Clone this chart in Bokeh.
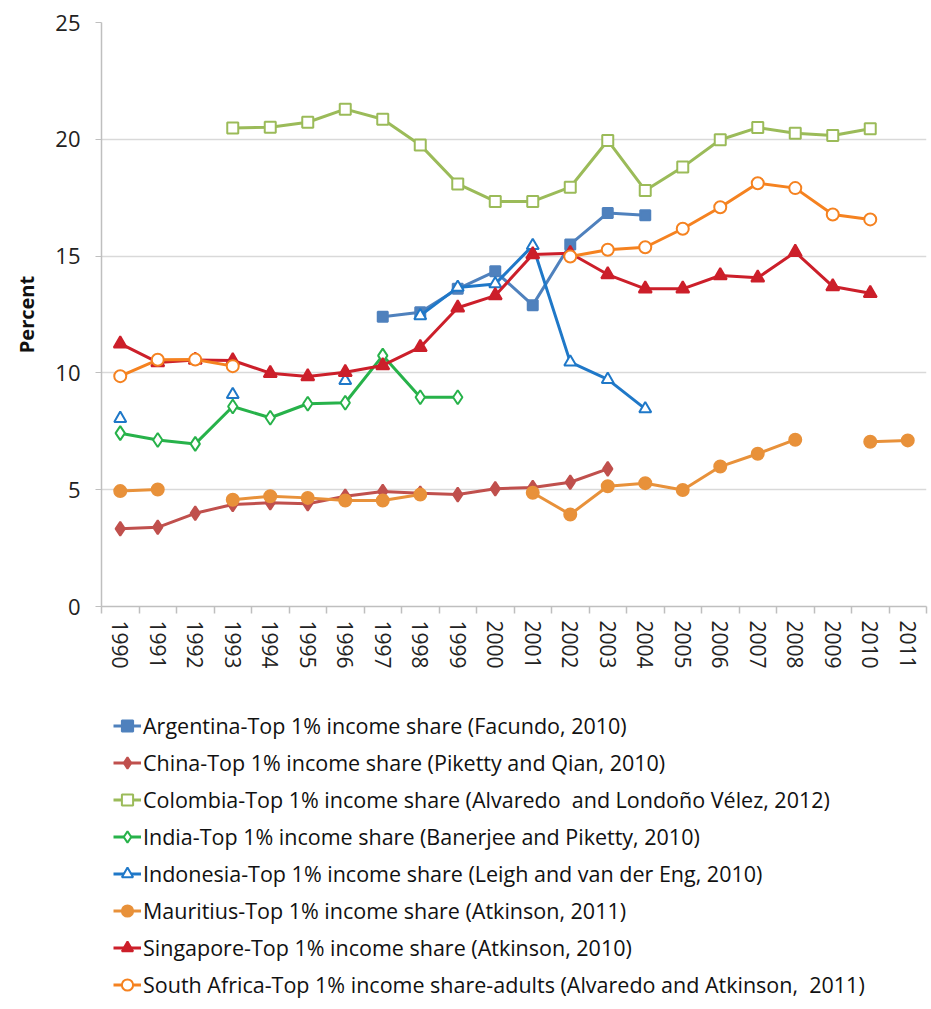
import numpy as np
from bokeh.plotting import figure
from bokeh.layouts import column
from bokeh.models import FixedTicker, Legend, LegendItem, Range1d
from bokeh.embed import file_html
from bokeh.resources import INLINE

years = list(range(1990, 2012))

argentina = [None, None, None, None, None, None, None, 12.4, 12.6, 13.6, 14.35, 12.9, 15.5, 16.85, 16.75,
             None, None, None, None, None, None, None]
china = [3.33, 3.39, 3.99, 4.37, 4.44, 4.40, 4.72, 4.92, 4.85, 4.79, 5.04, 5.09, 5.32, 5.89,
         None, None, None, None, None, None, None, None]
colombia = [None, None, None, 20.48, 20.52, 20.73, 21.29, 20.86, 19.76, 18.09, 17.34, 17.34, 17.95, 19.95,
            17.81, 18.81, 19.98, 20.50, 20.26, 20.16, 20.45, None]
india = [7.42, 7.13, 6.96, 8.56, 8.08, 8.68, 8.72, 10.74, 8.96, 8.96,
         None, None, None, None, None, None, None, None, None, None, None, None]
indonesia = [8.05, None, None, 9.07, None, None, 9.67, None, 12.45, 13.66, 13.81, 15.45, 10.46, 9.72, 8.46,
             None, None, None, None, None, None, None]
mauritius = [4.94, 5.01, None, 4.57, 4.72, 4.65, 4.54, 4.54, 4.79, None, None, 4.87, 3.94, 5.15, 5.28,
             4.99, 5.99, 6.54, 7.14, None, 7.05, 7.11]
singapore = [11.25, 10.45, 10.55, 10.53, 9.99, 9.85, 10.03, 10.32, 11.10, 12.79, 13.31, 15.07, 15.12, 14.21,
             13.60, 13.60, 14.17, 14.07, 15.17, 13.70, 13.41, None]
south_africa = [9.86, 10.56, 10.57, 10.29, None, None, None, None, None, None, None, None, 14.98, 15.27,
                15.38, 16.17, 17.09, 18.12, 17.91, 16.78, 16.57, None]

labels = [
    "Argentina-Top 1% income share (Facundo, 2010)",
    "China-Top 1% income share (Piketty and Qian, 2010)",
    "Colombia-Top 1% income share (Alvaredo  and Londoño Vélez, 2012)",
    "India-Top 1% income share (Banerjee and Piketty, 2010)",
    "Indonesia-Top 1% income share (Leigh and van der Eng, 2010)",
    "Mauritius-Top 1% income share (Atkinson, 2011)",
    "Singapore-Top 1% income share (Atkinson, 2010)",
    "South Africa-Top 1% income share-adults (Alvaredo and Atkinson,  2011)",
]
y_ticks = [0, 5, 10, 15, 20, 25]

def arr(v):
    return np.array([np.nan if x is None else x for x in v], dtype=float)

FONT = "Open Sans"

p = figure(width=928, height=680, output_backend="svg", toolbar_location=None,
           x_range=Range1d(1989.5, 2011.5), y_range=Range1d(0, 25),
           min_border_left=101, min_border_right=2, min_border_top=22, min_border_bottom=74)
p.outline_line_color = None
p.background_fill_color = "white"
p.border_fill_color = "white"

# y axis
p.yaxis.ticker = FixedTicker(ticks=y_ticks)
p.yaxis.axis_line_color = "#bfbfbf"
p.yaxis.axis_line_width = 1.5
p.yaxis.major_tick_line_color = "#bfbfbf"
p.yaxis.major_tick_out = 6
p.yaxis.major_tick_in = 0
p.yaxis.minor_tick_line_color = None
p.yaxis.major_label_text_font = FONT
p.yaxis.major_label_text_font_size = "22px"
p.yaxis.major_label_text_color = "#222222"
p.yaxis.major_label_standoff = 15
p.yaxis.axis_label = "Percent"
p.yaxis.axis_label_text_font = FONT
p.yaxis.axis_label_text_font_style = "bold"
p.yaxis.axis_label_text_font_size = "20px"
p.yaxis.axis_label_text_color = "#111111"
p.yaxis.axis_label_standoff = 12

# x axis
p.xaxis.ticker = FixedTicker(ticks=years, minor_ticks=[y + 0.5 for y in range(1989, 2012)])
p.xaxis.major_label_overrides = {y: str(y) for y in years}
p.xaxis.axis_line_color = "#bfbfbf"
p.xaxis.axis_line_width = 1.5
p.xaxis.major_tick_line_color = None
p.xaxis.major_tick_out = 0
p.xaxis.major_tick_in = 0
p.xaxis.minor_tick_line_color = "#bfbfbf"
p.xaxis.minor_tick_line_width = 1.5
p.xaxis.minor_tick_out = 7
p.xaxis.minor_tick_in = 0
p.xaxis.major_label_orientation = "vertical"
p.xaxis.major_label_text_font = FONT
p.xaxis.major_label_text_font_size = "21px"
p.xaxis.major_label_text_color = "#222222"
p.xaxis.major_label_standoff = 7

p.xgrid.grid_line_color = None
p.ygrid.ticker = FixedTicker(ticks=y_ticks)
p.ygrid.grid_line_color = "#d9d9d9"
p.ygrid.grid_line_width = 1.5

series = [
    (argentina, "#4f81bd", "square", "#4f81bd", 10),
    (china, "#c0504d", "diamond", "#c0504d", 14),
    (colombia, "#9bbb59", "square", "white", 11),
    (india, "#27b24a", "diamond", "white", 14),
    (indonesia, "#1f78c8", "triangle", "white", 12),
    (mauritius, "#e8913a", "circle", "#e8913a", 12),
    (singapore, "#cc1f2a", "triangle", "#cc1f2a", 13),
    (south_africa, "#f58220", "circle", "white", 12),
]

# legend panel below the chart (its frame aligns with the chart's frame)
pl = figure(width=928, height=325, output_backend="svg", toolbar_location=None,
            x_range=Range1d(0, 1), y_range=Range1d(0, 1),
            min_border_left=0, min_border_right=0, min_border_top=0, min_border_bottom=0)
pl.axis.visible = False
pl.grid.visible = False
pl.outline_line_color = None
pl.border_fill_color = "white"

items = []
for (vals, color, marker, fill, size), lab in zip(series, labels):
    y = arr(vals)
    p.line(years, y, line_color=color, line_width=3)
    p.scatter(years, y, marker=marker, size=size, line_color=color,
              fill_color=fill, line_width=2)
    l1 = pl.line([0.5, 0.6], [0.5, 0.5], line_color=color, line_width=3, visible=False)
    l2 = pl.scatter([0.5], [0.5], marker=marker, size=size * 0.8, line_color=color,
                    fill_color=fill, line_width=2, visible=False)
    items.append(LegendItem(label=lab, renderers=[l1, l2]))

legend = Legend(items=items, location=(12, 2), orientation="vertical",
                glyph_width=28, glyph_height=37, label_height=37, spacing=0,
                label_standoff=2, padding=0, margin=0,
                border_line_color=None, background_fill_alpha=0,
                label_text_font=FONT, label_text_font_size="21.5px",
                label_text_color="#111111", label_text_baseline="middle")
pl.add_layout(legend, "center")

open("out.html", "w").write(file_html(column(p, pl, spacing=0), INLINE))
